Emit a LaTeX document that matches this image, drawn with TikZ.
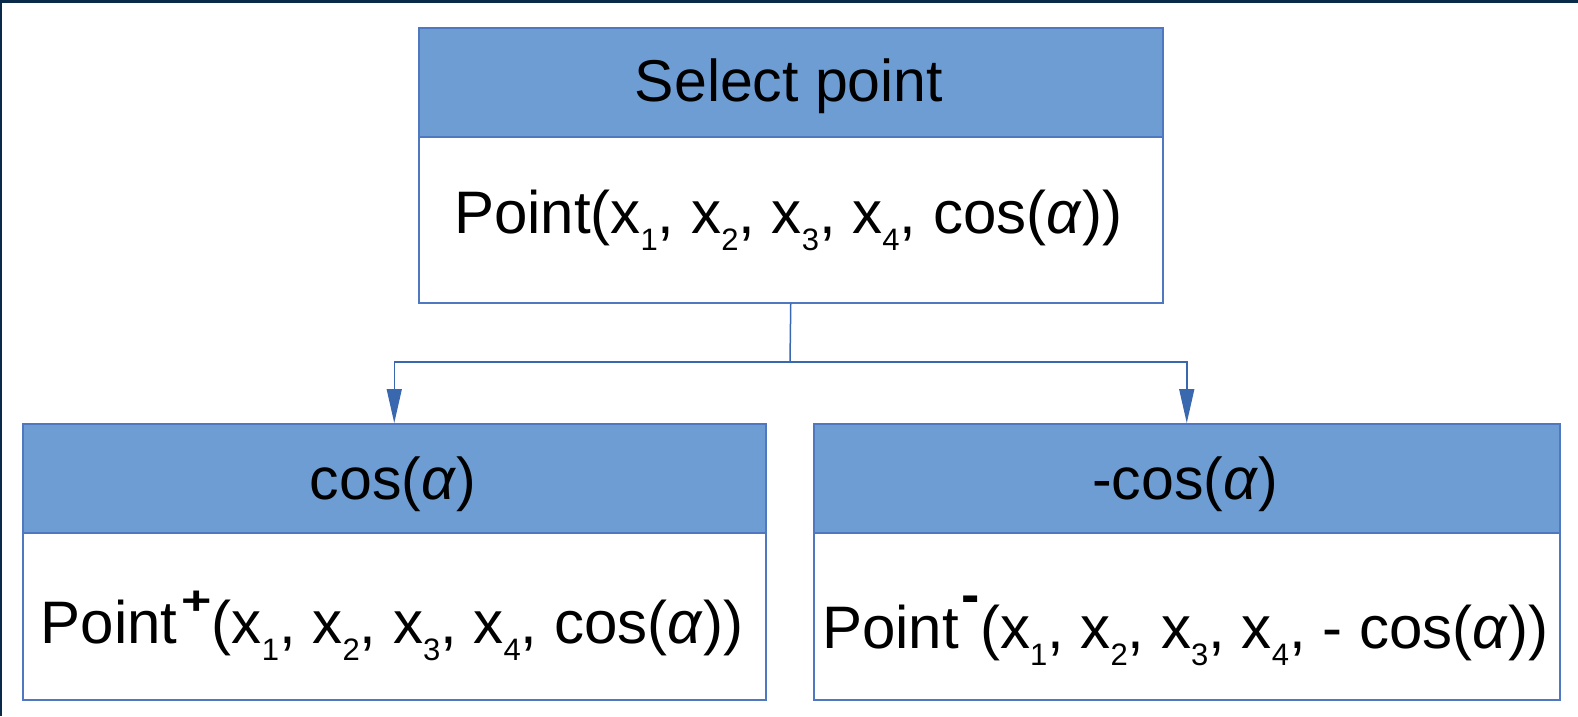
\documentclass[tikz,border=0pt]{standalone}
\usepackage{fontspec}
\setmainfont{Liberation Sans}
\usetikzlibrary{arrows.meta}
\definecolor{hdr}{HTML}{6E9DD3}
\definecolor{edgeblue}{HTML}{4F78C0}
\definecolor{arrblue}{HTML}{3A68AE}
\definecolor{navy}{HTML}{0A2A4A}
\newcommand{\sbs}[1]{\raisebox{-17pt}{\fontsize{31}{33}\selectfont #1}}
\newcommand{\alp}{\textit{α}}
\newcommand{\supplus}{\hspace{4pt}\raisebox{29pt}{\scalebox{1.3}[1]{\fontsize{40}{42}\selectfont\bfseries +}}}
\newcommand{\supminus}{\hspace{3pt}\raisebox{35pt}{\fontsize{55}{57}\selectfont\bfseries -}}
\tikzset{
  hdrbox/.style={draw=edgeblue, line width=1.5pt, fill=hdr, anchor=north west, inner sep=0pt},
  bodybox/.style={draw=edgeblue, line width=1.5pt, fill=white, anchor=north west, inner sep=0pt},
  txt/.style={anchor=base, inner sep=0pt, font=\fontsize{59}{64}\selectfont},
  bodytxt/.style={txt, font=\fontsize{60}{64}\selectfont},
  conn/.style={draw=arrblue, line width=1.5pt},
  arrowtip/.style={-{Triangle[length=34pt,width=15pt]}}
}
\begin{document}
\begin{tikzpicture}[x=1pt,y=-1pt]
\useasboundingbox (0,0) rectangle (1578,716);
\fill[white] (0,0) rectangle (1578,716);
\fill[navy] (0,0) rectangle (1578,3);
\fill[navy] (0,0) rectangle (2,716);
% top box
\node[hdrbox, minimum width=744pt, minimum height=109pt] (tH) at (418,27) {};
\node[bodybox, minimum width=744pt, minimum height=166pt] (tB) at (418,136) {};
\node[txt] (tHt) at (789,101) {Select point};
\node[bodytxt] (tBt) at (788,233) {Point(x\sbs{1}, x\sbs{2}, x\sbs{3}, x\sbs{4}, cos(\alp))};
% left box
\node[hdrbox, minimum width=743pt, minimum height=109pt] (lH) at (22,423) {};
\node[bodybox, minimum width=743pt, minimum height=167pt] (lB) at (22,532) {};
\node[txt] (lHt) at (393,499) {cos(\alp)};
\node[bodytxt] (lBt) at (392,643) {Point\supplus(x\sbs{1}, x\sbs{2}, x\sbs{3}, x\sbs{4}, cos(\alp))};
% right box
\node[hdrbox, minimum width=746pt, minimum height=109pt] (rH) at (813,423) {};
\node[bodybox, minimum width=746pt, minimum height=167pt] (rB) at (813,532) {};
\node[txt] (rHt) at (1185,499) {-cos(\alp)};
\node[bodytxt] (rBt) at (1185,648) {Point\supminus(x\sbs{1}, x\sbs{2}, x\sbs{3}, x\sbs{4}, - cos(\alp))};
% connectors
\coordinate (split) at (790,362);
\draw[conn] (tB.south) -- (split);
\draw[conn, arrowtip] (split) -| (lH.north);
\draw[conn, arrowtip] (split) -| (rH.north);
\end{tikzpicture}
\end{document}
